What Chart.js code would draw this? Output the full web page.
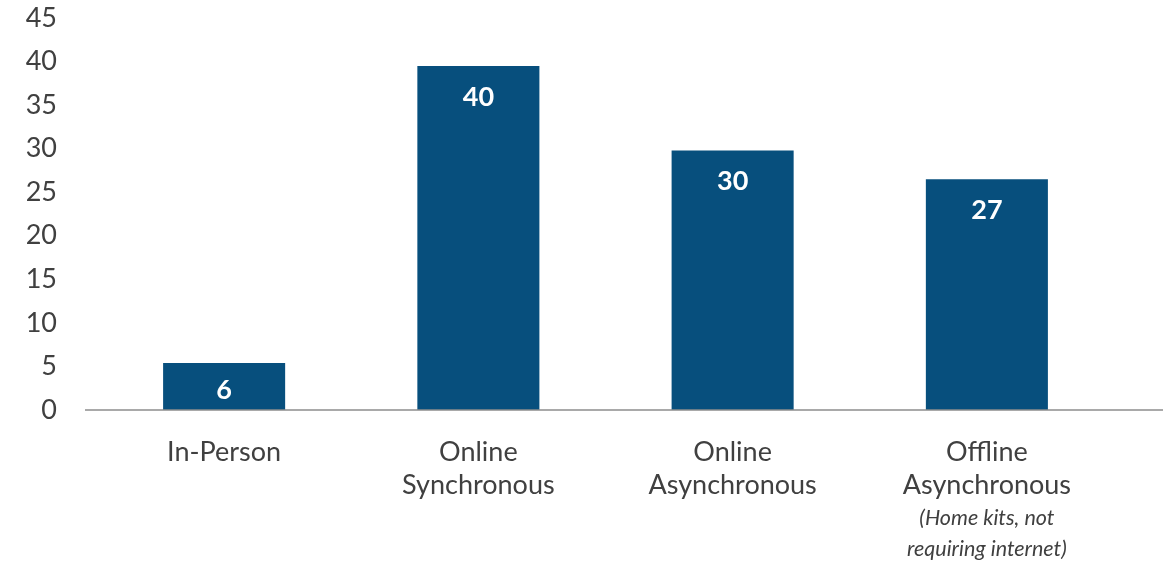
<!DOCTYPE html>
<html>
<head>
<meta charset="utf-8">
<script src="https://cdn.jsdelivr.net/npm/chart.js@4"></script>
<style>
  html, body { margin: 0; padding: 0; background: #fff; }
  #wrap { width: 1163px; height: 565px; }
</style>
</head>
<body>
<div id="wrap"><canvas id="c" width="1163" height="565"></canvas></div>
<script>
const categories = [
    ['In-Person'],
    ['Online', 'Synchronous'],
    ['Online', 'Asynchronous'],
    ['Offline', 'Asynchronous']
];
const notes = [[], [], [], ['(Home kits, not', 'requiring internet)']];
const values = [5.4, 39.5, 29.8, 26.5];
const valueLabels = ['6', '40', '30', '27'];
const yTicks = [0, 5, 10, 15, 20, 25, 30, 35, 40, 45];

const textColor = '#404040';
const barColor = '#074f7d';

// draws the baseline, the bar values and the italic notes
const extras = {
    id: 'extras',
    afterDatasetsDraw(chart) {
        const ctx = chart.ctx;
        const area = chart.chartArea;
        const meta = chart.getDatasetMeta(0);
        const x = chart.scales.x;

        ctx.save();
        ctx.strokeStyle = '#8c8c8c';
        ctx.lineWidth = 1.5;
        ctx.beginPath();
        ctx.moveTo(85, area.bottom);
        ctx.lineTo(chart.width, area.bottom);
        ctx.stroke();

        ctx.fillStyle = '#ffffff';
        ctx.font = 'bold 27px Lato';
        ctx.textAlign = 'center';
        ctx.textBaseline = 'middle';
        meta.data.forEach((bar, i) => {
            const y = Math.min(bar.y + 31, (bar.y + bar.base) / 2 + 4);
            ctx.fillText(valueLabels[i], bar.x, y);
        });

        ctx.fillStyle = textColor;
        ctx.font = 'italic 21.5px Lato';
        notes.forEach((lines, i) => {
            lines.forEach((line, j) => {
                ctx.fillText(line, x.getPixelForValue(i), 518 + j * 31);
            });
        });
        ctx.restore();
    }
};

new Chart(document.getElementById('c'), {
    type: 'bar',
    data: {
        labels: categories,
        datasets: [{
            data: values,
            backgroundColor: barColor,
            barPercentage: 0.48,
            categoryPercentage: 1
        }]
    },
    options: {
        responsive: false,
        animation: false,
        layout: { padding: { top: 18, right: 49, left: 0, bottom: 0 } },
        plugins: {
            legend: { display: false },
            tooltip: { enabled: false }
        },
        scales: {
            x: {
                grid: { display: false, drawTicks: false },
                border: { display: false },
                ticks: {
                    color: textColor,
                    font: { family: 'Lato', size: 27, lineHeight: 1.22 },
                    padding: 26,
                    maxRotation: 0,
                    autoSkip: false
                },
                afterFit(scale) { scale.height = 155; }
            },
            y: {
                min: 0,
                max: 45,
                afterBuildTicks(scale) {
                    scale.ticks = yTicks.map((v) => ({ value: v }));
                },
                grid: { display: false, drawTicks: false },
                border: { display: false },
                ticks: {
                    color: textColor,
                    font: { family: 'Lato', size: 27 },
                    padding: 40
                },
                afterFit(scale) {
                    scale.width = 97;
                    // tick padding is meant horizontally, not above the top label
                    scale.paddingTop = 0;
                    scale.paddingBottom = 0;
                }
            }
        }
    },
    plugins: [extras]
});
</script>
</body>
</html>
